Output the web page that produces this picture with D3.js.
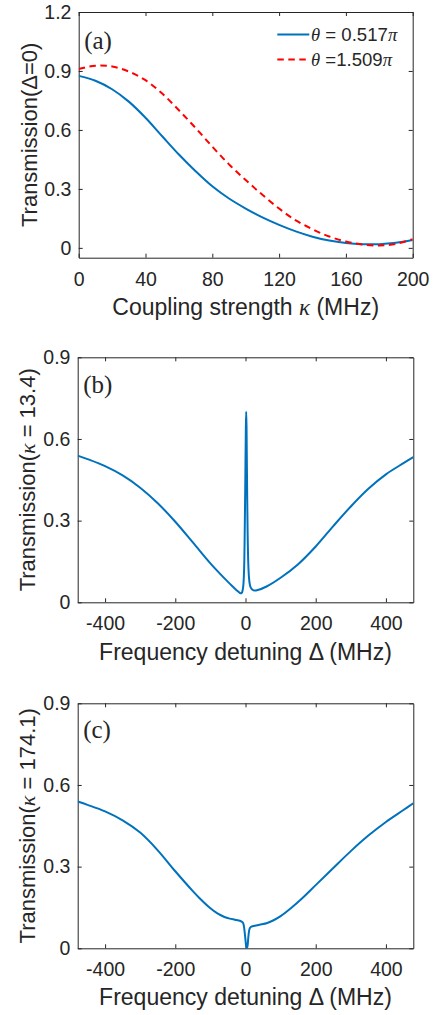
<!DOCTYPE html>
<html>
<head>
<meta charset="utf-8">
<script src="https://cdn.jsdelivr.net/npm/d3@7"></script>
<style>
  body { margin: 0; background: #fff; }
  svg { display: block; }
</style>
</head>
<body>
<div id="chart"></div>
<script>
// ---- panel (a): transmission at zero detuning vs coupling strength ----
const kappaA = [0, 10, 20, 30, 40, 50, 60, 70, 80, 90, 100, 110, 120, 130, 140, 150, 160, 170, 180, 190, 200];
const transTheta1 = [0.875, 0.85, 0.807, 0.744, 0.662, 0.568, 0.475, 0.39, 0.313, 0.251, 0.2, 0.155, 0.117, 0.084, 0.057, 0.037, 0.025, 0.019, 0.019, 0.026, 0.04];
const transTheta2 = [0.91, 0.927, 0.923, 0.897, 0.853, 0.785, 0.70, 0.61, 0.515, 0.425, 0.345, 0.27, 0.2, 0.14, 0.095, 0.058, 0.032, 0.017, 0.012, 0.02, 0.044];
const legendA = ['0.517', '1.509'];

// ---- panel (b): kappa = 13.4 ----
const detuningB = [-478, -450, -400, -350, -300, -250, -200, -150, -100, -75, -50, -30, -20, -15, -12, -10, -8, -6, -4, -2, 0, 1, 2, 3, 4, 6, 8, 10, 12, 15, 20, 26, 35, 60, 100, 150, 200, 250, 300, 350, 400, 450, 478];
const transB = [0.539, 0.526, 0.5, 0.466, 0.421, 0.364, 0.296, 0.22, 0.143, 0.108, 0.075, 0.05, 0.039, 0.034, 0.033, 0.036, 0.045, 0.065, 0.12, 0.28, 0.52, 0.64, 0.70, 0.64, 0.5, 0.26, 0.14, 0.09, 0.068, 0.054, 0.046, 0.043, 0.045, 0.058, 0.09, 0.14, 0.205, 0.28, 0.352, 0.417, 0.47, 0.511, 0.533];

// ---- panel (c): kappa = 174.1 ----
const detuningC = [-478, -450, -400, -350, -300, -250, -200, -150, -130, -100, -80, -60, -45, -30, -16, -8, -5, -2, 0, 2, 4, 6, 8, 10, 12, 15, 20, 30, 45, 60, 80, 100, 130, 160, 200, 250, 300, 350, 400, 450, 478];
const transC = [0.539, 0.527, 0.503, 0.47, 0.425, 0.36, 0.283, 0.21, 0.183, 0.147, 0.128, 0.115, 0.109, 0.105, 0.101, 0.095, 0.085, 0.055, 0.03, 0.008, 0.0, 0.01, 0.04, 0.062, 0.073, 0.078, 0.081, 0.084, 0.088, 0.092, 0.103, 0.118, 0.148, 0.182, 0.232, 0.295, 0.357, 0.414, 0.464, 0.508, 0.533];

const ticksKappa = [0, 40, 80, 120, 160, 200];
const ticksTransA = [0, 0.3, 0.6, 0.9, 1.2];
const ticksDet = [-400, -200, 0, 200, 400];
const ticksTrans = [0, 0.3, 0.6, 0.9];

const SANS = '"Liberation Sans", Arial, Helvetica, sans-serif';
const SERIF = '"Liberation Serif", "Times New Roman", serif';
const AX = '#262626';
const BLUE = '#0072BD';
const RED = '#FF0000';

const svg = d3.select('#chart').append('svg')
  .attr('width', 437)
  .attr('height', 1015);

function drawPanel(p) {
  const x = d3.scaleLinear().domain(p.xDomain).range([p.left, p.right]);
  const y = d3.scaleLinear().domain(p.yDomain).range([p.bottom, p.top]);
  const g = svg.append('g');

  const clipId = 'clip-' + p.tag;
  g.append('clipPath').attr('id', clipId)
    .append('rect')
    .attr('x', p.left).attr('y', p.top)
    .attr('width', p.right - p.left).attr('height', p.bottom - p.top);

  // axes with inward ticks, MATLAB box style (hyphen minus, not U+2212)
  const bottom = g.append('g').attr('transform', `translate(0,${p.bottom})`)
    .call(d3.axisBottom(x).tickValues(p.xTicks).tickSize(-4).tickSizeOuter(0).tickPadding(14.3)
      .tickFormat(d => String(d)));
  const left = g.append('g').attr('transform', `translate(${p.left},0)`)
    .call(d3.axisLeft(y).tickValues(p.yTicks).tickSize(-4).tickSizeOuter(0).tickPadding(7.3)
      .tickFormat(d => d === 0 ? '0' : d3.format('.1f')(d)));
  const top = g.append('g').attr('transform', `translate(0,${p.top})`)
    .call(d3.axisTop(x).tickValues(p.xTicks).tickSize(-4).tickSizeOuter(0).tickFormat(''));
  const right = g.append('g').attr('transform', `translate(${p.right},0)`)
    .call(d3.axisRight(y).tickValues(p.yTicks).tickSize(-4).tickSizeOuter(0).tickFormat(''));

  [bottom, left, top, right].forEach(a => {
    a.selectAll('path.domain').attr('stroke', AX).attr('stroke-width', 1);
    a.selectAll('line').attr('stroke', AX).attr('stroke-width', 1);
    a.selectAll('text').attr('fill', AX).style('font-family', SANS).style('font-size', '19.5px');
  });

  // curves
  p.series.forEach(s => {
    const line = d3.line()
      .x((d, i) => x(s.xs[i]))
      .y(d => y(d))
      .curve(d3.curveCatmullRom.alpha(0.5));
    g.append('path')
      .attr('clip-path', `url(#${clipId})`)
      .attr('d', line(s.ys))
      .attr('fill', 'none')
      .attr('stroke', s.color)
      .attr('stroke-width', 2)
      .attr('stroke-dasharray', s.dash || null);
  });

  // panel tag
  g.append('text')
    .attr('x', p.left + 5.5).attr('y', p.tagY)
    .style('font-family', SERIF).style('font-size', '25px')
    .attr('fill', AX)
    .text(`(${p.tag})`);

  // x label
  const xl = g.append('text')
    .attr('x', (p.left + p.right) / 2).attr('y', p.xLabelY)
    .attr('text-anchor', 'middle')
    .style('font-family', SANS).style('font-size', '23px')
    .attr('fill', AX);
  p.xLabel.forEach(part => {
    xl.append('tspan').text(part.t)
      .style('font-family', part.serif ? SERIF : SANS)
      .style('font-style', part.serif ? 'italic' : 'normal');
  });

  // y label
  const yl = g.append('text')
    .attr('transform', `translate(${p.yLabelX},${(p.top + p.bottom) / 2}) rotate(-90)`)
    .attr('text-anchor', 'middle')
    .style('font-family', SANS).style('font-size', '22px')
    .attr('fill', AX);
  p.yLabel.forEach(part => {
    yl.append('tspan').text(part.t)
      .style('font-family', part.serif ? SERIF : SANS)
      .style('font-style', part.serif ? 'italic' : 'normal');
  });

  return { x, y, g };
}

drawPanel({
  tag: 'a', left: 78.7, right: 412.7, top: 12, bottom: 257.7,
  xDomain: [0, 200], yDomain: [-0.05, 1.2],
  xTicks: ticksKappa, yTicks: ticksTransA,
  tagY: 48.5, xLabelY: 315, yLabelX: 36.5,
  xLabel: [{ t: 'Coupling strength ' }, { t: 'κ', serif: true }, { t: ' (MHz)' }],
  yLabel: [{ t: 'Transmission(Δ=0)' }],
  series: [
    { xs: kappaA, ys: transTheta1, color: BLUE },
    { xs: kappaA, ys: transTheta2, color: RED, dash: '6.5,4.5' }
  ]
});

drawPanel({
  tag: 'b', left: 77.7, right: 413.3, top: 357.3, bottom: 602.3,
  xDomain: [-478, 478], yDomain: [0, 0.9],
  xTicks: ticksDet, yTicks: ticksTrans,
  tagY: 392.7, xLabelY: 660, yLabelX: 35,
  xLabel: [{ t: 'Frequency detuning Δ (MHz)' }],
  yLabel: [{ t: 'Transmission(' }, { t: 'κ', serif: true }, { t: ' = 13.4)' }],
  series: [{ xs: detuningB, ys: transB, color: BLUE }]
});

drawPanel({
  tag: 'c', left: 77.7, right: 413.3, top: 703.3, bottom: 948.3,
  xDomain: [-478, 478], yDomain: [0, 0.9],
  xTicks: ticksDet, yTicks: ticksTrans,
  tagY: 738.3, xLabelY: 1005, yLabelX: 35,
  xLabel: [{ t: 'Frequency detuning Δ (MHz)' }],
  yLabel: [{ t: 'Transmission(' }, { t: 'κ', serif: true }, { t: ' = 174.1)' }],
  series: [{ xs: detuningC, ys: transC, color: BLUE }]
});

// legend for panel (a)
const legendRows = [
  { color: BLUE, dash: null, eq: ' = ', val: legendA[0] },
  { color: RED, dash: '6.5,4.5', eq: ' =', val: legendA[1] }
];
const legend = svg.append('g');
legendRows.forEach((r, i) => {
  const ly = 34.5 + i * 25;
  legend.append('line')
    .attr('x1', 277.3).attr('x2', 309.3)
    .attr('y1', ly).attr('y2', ly)
    .attr('stroke', r.color).attr('stroke-width', 2)
    .attr('stroke-dasharray', r.dash);
  const t = legend.append('text')
    .attr('x', 311).attr('y', ly + 6.7)
    .attr('fill', AX)
    .style('font-family', SANS).style('font-size', '18.6px');
  t.append('tspan').text('θ').style('font-family', SERIF).style('font-style', 'italic');
  t.append('tspan').text(r.eq + r.val);
  t.append('tspan').text('π').style('font-family', SERIF).style('font-style', 'italic');
});
</script>
</body>
</html>
